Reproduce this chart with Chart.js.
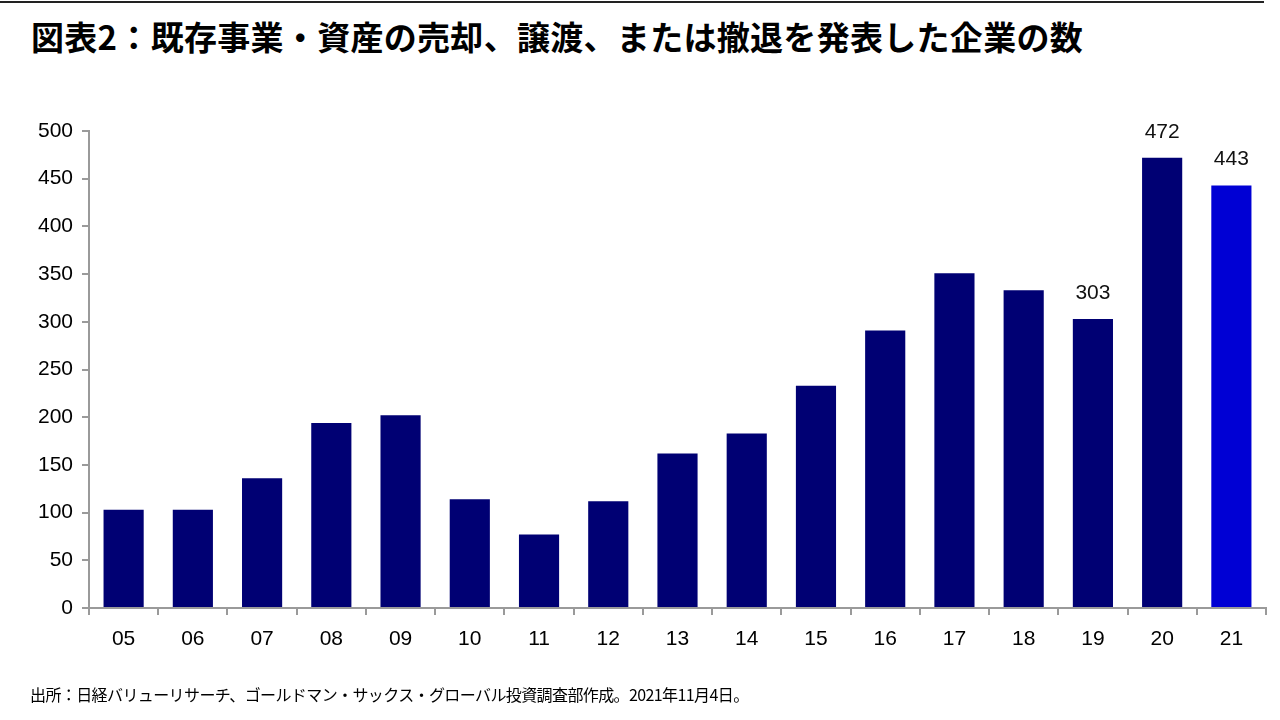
<!DOCTYPE html>
<html lang="ja">
<head>
<meta charset="utf-8">
<script src="https://cdn.jsdelivr.net/npm/chart.js@4.4.1/dist/chart.umd.min.js"></script>
<style>
  html, body { margin: 0; padding: 0; background: #fff; }
  #wrap { position: relative; width: 1280px; height: 720px; overflow: hidden; }
  #topline { position: absolute; left: 0; top: 1px; width: 1264px; height: 2px; background: #222; }
  #title { position: absolute; left: 31px; top: 12px; font-family: "Noto Sans CJK JP", sans-serif; font-weight: 700; font-size: 33px; color: #000; white-space: nowrap; letter-spacing: 0.3px; }
  #note { position: absolute; left: 30px; top: 682px; font-family: "Noto Sans CJK JP", sans-serif; font-size: 16px; color: #000; white-space: nowrap; letter-spacing: -0.6px; }
  canvas { position: absolute; left: 0; top: 0; }
</style>
</head>
<body>
<div id="wrap">
  <div id="topline"></div>
  <div id="title">図表2：既存事業・資産の売却、譲渡、または撤退を発表した企業の数</div>
  <canvas id="chart" width="1280" height="720"></canvas>
  <div id="note">出所：日経バリューリサーチ、ゴールドマン・サックス・グローバル投資調査部作成。2021年11月4日。</div>
</div>
<script>
// years (fiscal, two-digit)
const years = ['05', '06', '07', '08', '09', '10', '11', '12', '13', '14', '15', '16', '17', '18', '19', '20', '21'];
const counts = [103, 103, 136, 194, 202, 114, 77, 112, 162, 183, 233, 291, 351, 333, 303, 472, 443];
// only the last three bars carry a value label
const labelled = ['19', '20', '21'];
const yTicks = [0, 50, 100, 150, 200, 250, 300, 350, 400, 450, 500];

const navy = '#000073';
const bright = '#0000d4';
const axisColor = '#9a9a9a';
const numFont = '"Liberation Sans", Arial, sans-serif';

const barColors = years.map(y => (y === '21' ? bright : navy));

// draws the value above the chosen bars
const valueLabels = {
  id: 'valueLabels',
  afterDatasetsDraw(chart) {
    const ctx = chart.ctx;
    const meta = chart.getDatasetMeta(0);
    ctx.save();
    ctx.font = '21px ' + numFont;
    ctx.fillStyle = '#111';
    ctx.textAlign = 'center';
    ctx.textBaseline = 'middle';
    meta.data.forEach((bar, i) => {
      if (!labelled.includes(years[i])) return;
      ctx.fillText(String(counts[i]), bar.x, bar.y - 26);
    });
    ctx.restore();
  }
};

new Chart(document.getElementById('chart'), {
  type: 'bar',
  data: {
    labels: years,
    datasets: [{
      data: counts,
      backgroundColor: barColors,
      borderWidth: 0,
      barPercentage: 0.58,
      categoryPercentage: 1.0
    }]
  },
  options: {
    responsive: false,
    animation: false,
    devicePixelRatio: 1,
    layout: { padding: { left: 0, right: 14, top: 131, bottom: 0 } },
    plugins: {
      legend: { display: false },
      tooltip: { enabled: false }
    },
    scales: {
      x: {
        offset: true,
        grid: { display: true, offset: true, drawOnChartArea: false, drawTicks: true, tickLength: 7, color: axisColor, lineWidth: 2 },
        border: { display: true, color: axisColor, width: 2 },
        ticks: { color: '#000', padding: 12, font: { family: numFont, size: 21 } },
        afterFit(scale) { scale.height = 112; }
      },
      y: {
        min: 0,
        max: 500,
        afterBuildTicks(scale) { scale.ticks = yTicks.map(v => ({ value: v })); },
        grid: { display: true, drawOnChartArea: false, drawTicks: true, tickLength: 7, color: axisColor, lineWidth: 2 },
        border: { display: true, color: axisColor, width: 2 },
        ticks: { color: '#000', padding: 9, font: { family: numFont, size: 21 } },
        afterFit(scale) { scale.width = 89; }
      }
    }
  },
  plugins: [valueLabels]
});
</script>
</body>
</html>
